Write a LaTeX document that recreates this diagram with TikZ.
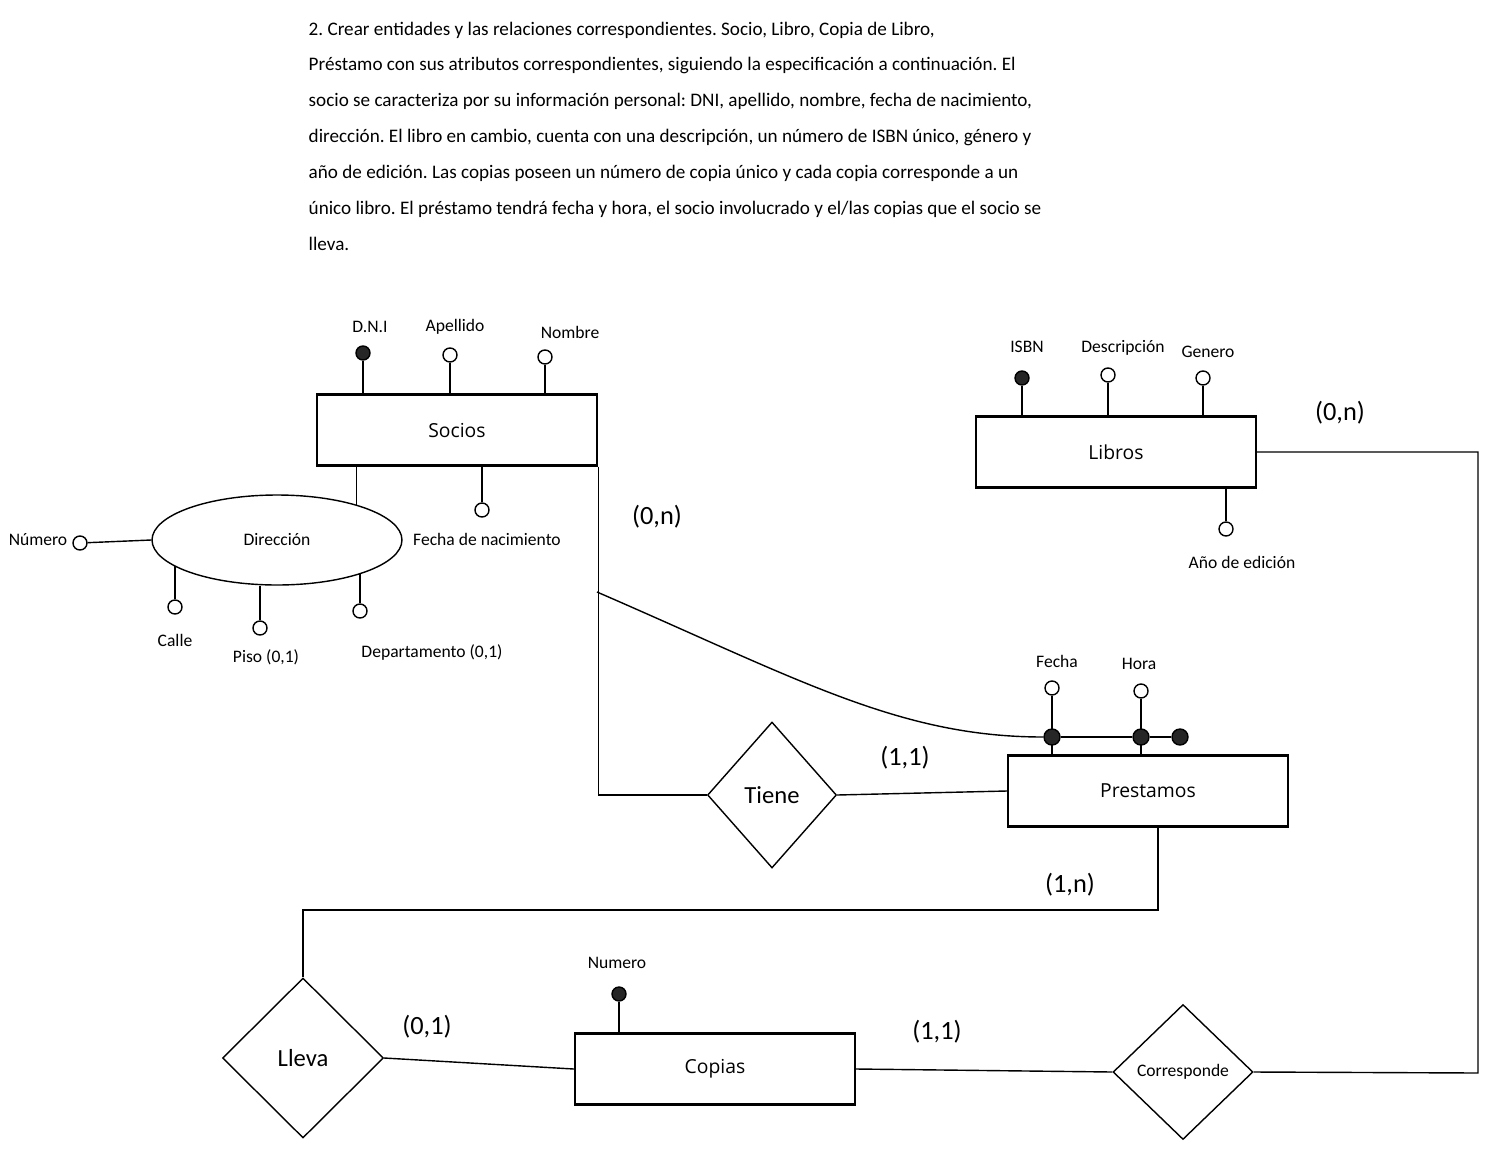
\documentclass[tikz,border=0pt]{standalone}
\usepackage{fontspec}
\setmainfont{Carlito}
\newfontfamily\cajafont{Open Sans}
\usetikzlibrary{shapes.geometric}

\tikzset{
  entidad/.style={draw, line width=1.4pt, minimum width=5.6cm, minimum height=1.42cm,
    font=\cajafont\fontsize{11}{13}\selectfont},
  relacion/.style={draw, diamond, inner sep=0pt, font=\fontsize{14}{16}\selectfont},
  attr/.style={draw, circle, fill=white, inner sep=0pt, minimum size=0.28cm},
  clave/.style={attr, fill=black!85},
  punto/.style={draw, circle, fill=black!85, inner sep=0pt, minimum size=0.32cm},
  etiq/.style={font=\fontsize{10}{12}\selectfont},
  card/.style={font=\fontsize{15}{17}\selectfont}
}
\frenchspacing

\begin{document}
\begin{tikzpicture}[x=0.02cm, y=-0.02cm, line width=0.8pt]
  \useasboundingbox (0,0) rectangle (1493,1149);

  % enunciado
  \node [anchor=north west, align=left, inner sep=0pt, font=\fontsize{10.9}{20.4}\selectfont] (enunciado) at (308,21)
    {2. Crear entidades y las relaciones correspondientes. Socio, Libro, Copia de Libro,\\
     Préstamo con sus atributos correspondientes, siguiendo la especificación a continuación. El\\
     socio se caracteriza por su información personal: DNI, apellido, nombre, fecha de nacimiento,\\
     dirección. El libro en cambio, cuenta con una descripción, un número de ISBN único, género y\\
     año de edición. Las copias poseen un número de copia único y cada copia corresponde a un\\
     único libro. El préstamo tendrá fecha y hora, el socio involucrado y el/las copias que el socio se\\
     lleva.};

  % entidades
  \node [entidad] (socios) at (457,430) {Socios};
  \node [entidad] (libros) at (1116,452) {Libros};
  \node [entidad] (prestamos) at (1148,791) {Prestamos};
  \node [entidad] (copias) at (715,1069) {Copias};

  % relaciones
  \node [relacion, minimum width=2.58cm, minimum height=2.92cm] (tiene) at (772,795) {Tiene};
  \node [relacion, minimum width=3.22cm, minimum height=3.2cm] (lleva) at (303,1058) {Lleva};
  \node [relacion, minimum width=2.8cm, minimum height=2.7cm, font=\fontsize{10}{12}\selectfont] (corresponde) at (1183,1072) {Corresponde};

  % socios
  \node [clave] (dni) at (363,353) {};
  \node [attr] (apellido) at (450,355) {};
  \node [attr] (nombre) at (545,357) {};
  \node [attr] (fnac) at (482,510) {};
  \draw (dni) -- (dni |- socios.north);
  \draw (apellido) -- (apellido |- socios.north);
  \draw (nombre) -- (nombre |- socios.north);
  \draw (fnac) -- (fnac |- socios.south);
  \node [etiq] (dnil) at (370,327) {D.N.I};
  \node [etiq] (apellidol) at (455,327) {Apellido};
  \node [etiq] (nombrel) at (570,332) {Nombre};
  \node [etiq] (fnacl) at (487,539) {Fecha de nacimiento};

  % direccion
  \node [draw, ellipse, minimum width=5cm, minimum height=1.8cm, etiq] (direccion) at (277,540) {Dirección};
  \draw (direccion.24 |- socios.south) -- (direccion.24);
  \node [attr] (numero) at (80,543) {};
  \node [attr] (calle) at (175,607) {};
  \node [attr] (piso) at (260,628) {};
  \node [attr] (depto) at (360,611) {};
  \draw (numero) -- (direccion.west);
  \draw (calle) -- (direccion.194 -| calle);
  \draw (piso) -- (piso |- direccion.south);
  \draw (depto) -- (direccion.-22 -| depto);
  \node [etiq] (numerol) at (38,540) {Número};
  \node [etiq] (callel) at (175,640) {Calle};
  \node [etiq] (pisol) at (266,657) {Piso (0,1)};
  \node [etiq] (deptol) at (432,652) {Departamento (0,1)};

  % libros
  \node [clave] (isbn) at (1022,378) {};
  \node [attr] (desc) at (1108,375) {};
  \node [attr] (genero) at (1203,378) {};
  \node [attr] (anio) at (1226,529) {};
  \draw (isbn) -- (isbn |- libros.north);
  \draw (desc) -- (desc |- libros.north);
  \draw (genero) -- (genero |- libros.north);
  \draw (anio) -- (anio |- libros.south);
  \node [etiq] (isbnl) at (1027,347) {ISBN};
  \node [etiq] (descl) at (1123,348) {Descripción};
  \node [etiq] (generol) at (1208,352) {Genero};
  \node [etiq] (aniol) at (1242,562) {Año de edición};

  % prestamos
  \node [attr] (fecha) at (1052,688) {};
  \node [attr] (hora) at (1141,691) {};
  \draw (fecha) -- (fecha |- prestamos.north);
  \draw (hora) -- (hora |- prestamos.north);
  \node [punto] (fechap) at (1052,737) {};
  \node [punto] (horap) at (1141,737) {};
  \node [punto] (socioP) at (1180,737) {};
  \draw (fechap) -- (horap) -- (socioP);
  \node [etiq] (fechal) at (1057,661) {Fecha};
  \node [etiq] (horal) at (1139,664) {Hora};

  % copias
  \node [clave] (numcopia) at (619,994) {};
  \draw (numcopia) -- (numcopia |- copias.north);
  \node [etiq] (numcopial) at (617,963) {Numero};

  % conexiones
  \coordinate (codo) at (597,592);
  \draw (socios.south east) -- (socios.south east |- tiene.west) -- (tiene.west);
  \draw (codo) .. controls (800,680) and (900,737) .. (fechap);
  \draw (tiene.east) -- (prestamos.west);
  \draw ([xshift=0.2cm]prestamos.south) |- (lleva.north |- 0,910) -- (lleva.north);
  \draw (lleva.east) -- (copias.west);
  \draw (copias.east) -- (corresponde.west);
  \draw (libros.east) -| (1478,1073) -- (corresponde.east);

  % cardinalidades
  \node [card] (c1) at (657,517) {(0,n)};
  \node [card] (c2) at (905,758) {(1,1)};
  \node [card] (c3) at (1070,885) {(1,n)};
  \node [card] (c4) at (427,1027) {(0,1)};
  \node [card] (c5) at (937,1032) {(1,1)};
  \node [card] (c6) at (1340,413) {(0,n)};
\end{tikzpicture}
\end{document}
